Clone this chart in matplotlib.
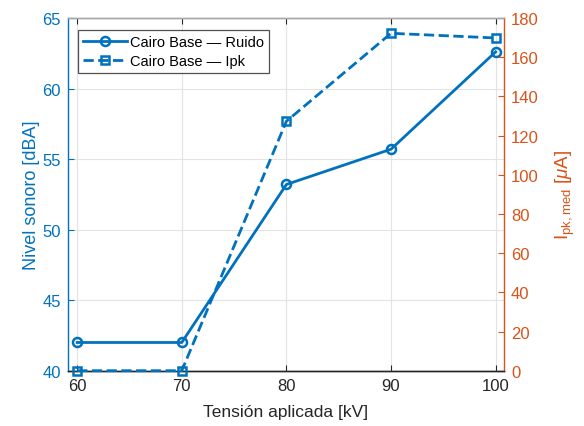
import matplotlib
matplotlib.use("Agg")
import matplotlib.pyplot as plt

plt.rcParams['font.family'] = ['Liberation Sans', 'DejaVu Sans']
plt.rcParams['mathtext.fontset'] = 'custom'
plt.rcParams['mathtext.rm'] = 'Liberation Sans'
plt.rcParams['mathtext.it'] = 'Liberation Sans:italic'

# Data
voltage_kv = [60, 70, 80, 90, 100]
noise_dba = [42.0, 42.0, 53.2, 55.7, 62.6]
ipk_ua = [0.0, 0.0, 127.3, 172.2, 169.8]

x_ticks = [60, 70, 80, 90, 100]
left_ticks = [40, 45, 50, 55, 60, 65]
right_ticks = [0, 20, 40, 60, 80, 100, 120, 140, 160, 180]

BLUE = '#0072BD'
ORANGE = '#D95319'
DARK = '#262626'

fig = plt.figure(figsize=(5.84, 4.27), dpi=100)
ax = fig.add_axes([0.116, 0.1295, 0.747, 0.826])
ax2 = ax.twinx()

l1, = ax.plot(voltage_kv, noise_dba, '-o', color=BLUE, lw=2, ms=6.5,
              mfc='none', mew=1.8, label='Cairo Base — Ruido', clip_on=False, zorder=5)
l2, = ax2.plot(voltage_kv, ipk_ua, '--s', color=BLUE, lw=2, ms=6,
               mfc='none', mew=1.8, label='Cairo Base — Ipk', clip_on=False, zorder=5)

ax.set_xlim(59.1, 100.8)
ax.set_ylim(40, 65)
ax2.set_ylim(0, 180)
ax.set_xticks(x_ticks)
ax.set_yticks(left_ticks)
ax2.set_yticks(right_ticks)

ax.grid(True, color='#e3e3e3', lw=0.8)
ax.set_axisbelow(True)

ax.tick_params(axis='x', direction='in', colors=DARK, labelsize=12, length=4, top=True, pad=5)
ax.tick_params(axis='y', direction='in', colors=BLUE, labelsize=12, length=4, pad=5)
ax2.tick_params(axis='y', direction='in', colors=ORANGE, labelsize=12, length=4, pad=5)
ax2.tick_params(axis='x', top=False, bottom=False)

ax.spines['left'].set_color(BLUE)
ax.spines['bottom'].set_color(DARK)
ax.spines['top'].set_color('#a8a8a8')
ax.spines['right'].set_visible(False)
ax2.spines['right'].set_color(ORANGE)
ax2.spines['left'].set_visible(False)
ax2.spines['bottom'].set_color(DARK)
ax2.spines['top'].set_color('#a8a8a8')
for s in list(ax.spines.values()) + list(ax2.spines.values()):
    s.set_linewidth(1.0)

ax.set_xlabel('Tensión aplicada [kV]', fontsize=12.5, color=DARK, labelpad=8)
ax.set_ylabel('Nivel sonoro [dBA]', fontsize=13, color=BLUE, labelpad=2)
ax2.set_ylabel(r'I$_{\mathrm{pk,med}}$ [$\mu$A]', fontsize=13.5, color=ORANGE, labelpad=11)

leg = ax2.legend(handles=[l1, l2], loc='upper left', bbox_to_anchor=(0.024, 0.966),
                 fontsize=10.5, frameon=True, fancybox=False, handlelength=3.0,
                 handletextpad=0.2, borderpad=0.35, labelspacing=0.35,
                 borderaxespad=0.0)
leg.get_frame().set_edgecolor('#262626')
leg.get_frame().set_linewidth(0.9)

fig.savefig('out.png', dpi=100, facecolor='white')
